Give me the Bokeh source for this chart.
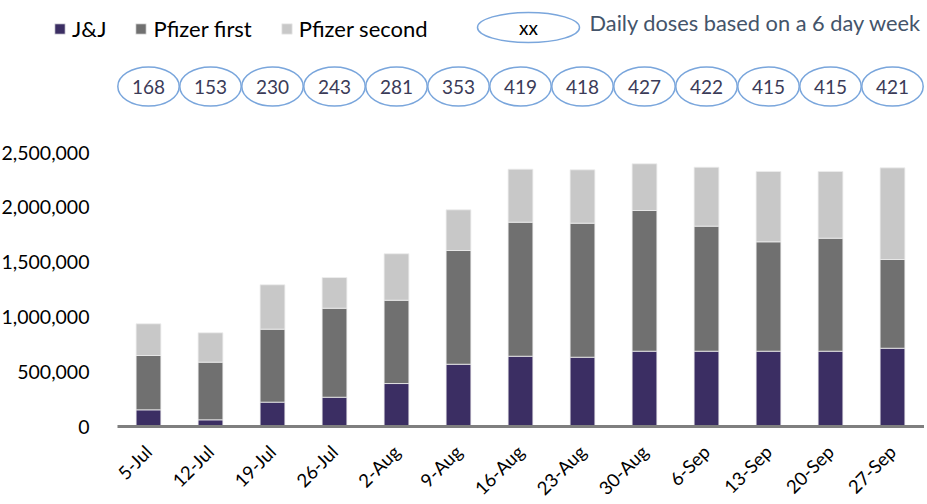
import math
from bokeh.plotting import figure
from bokeh.models import (Range1d, Legend, LegendItem, FixedTicker,
                          NumeralTickFormatter, ColumnDataSource)
from bokeh.embed import file_html
from bokeh.resources import INLINE
from bokeh.core.properties import value

weeks = ["5-Jul", "12-Jul", "19-Jul", "26-Jul", "2-Aug", "9-Aug", "16-Aug",
         "23-Aug", "30-Aug", "6-Sep", "13-Sep", "20-Sep", "27-Sep"]
jj = [152000, 61000, 222000, 267000, 392000, 568000, 641000,
      632000, 687000, 687000, 687000, 687000, 714000]
pfizer_first = [496000, 526000, 666000, 812000, 760000, 1038000, 1223000,
                1223000, 1284000, 1141000, 998000, 1031000, 810000]
pfizer_second = [289000, 268000, 405000, 280000, 424000, 371000, 484000,
                 487000, 426000, 538000, 642000, 609000, 836000]
daily_doses = ["168", "153", "230", "243", "281", "353", "419",
               "418", "427", "422", "415", "415", "421"]
y_ticks = [0, 500000, 1000000, 1500000, 2000000, 2500000]
series_names = ["J&J", "Pfizer first", "Pfizer second"]
series_colors = ["#3b2e63", "#707070", "#c8c8c8"]
key_label = "xx"
key_text = "Daily doses based on a 6 day week"

FONT = "Lato"
ELLIPSE_COLOR = "#7aa6dc"

# ---- pixel layout (page pixels) -> data coordinates ----
W, H = 924, 500
PAGE_X0, PAGE_Y0 = 0, 0
CAT_W = 62.0            # pixels per week
FIRST_X = 148.0         # page x of the first week's centre
BASE_Y = 426.0          # page y of value 0
PX_PER_UNIT = 109.6e-6  # pixels per dose


def dx(page_x):
    return (page_x - FIRST_X) / CAT_W


def dy(page_y):
    return (BASE_Y - page_y) / PX_PER_UNIT


x_idx = list(range(len(weeks)))
src = ColumnDataSource(dict(x=x_idx, week=weeks, jj=jj, pf1=pfizer_first,
                            pf2=pfizer_second, daily=daily_doses))

p = figure(x_range=Range1d(dx(PAGE_X0), dx(PAGE_X0 + W)),
           y_range=Range1d(dy(PAGE_Y0 + H), dy(PAGE_Y0)),
           width=W, height=H, output_backend="svg", toolbar_location=None,
           min_border=0)
p.outline_line_color = None
p.xgrid.grid_line_color = None
p.ygrid.grid_line_color = None

rs = p.vbar_stack(["jj", "pf1", "pf2"], x="x", width=0.4, source=src,
                  color=series_colors, line_color="#eeeeee", line_width=0.8)

# daily-dose ellipses row
y_daily = dy(86)
p.ellipse(x="x", y=y_daily, width=0.99, height=39, height_units="screen",
          source=src, fill_color=None, line_color=ELLIPSE_COLOR, line_width=1.5)
p.text(x="x", y=y_daily, text="daily", source=src, text_align="center",
       text_baseline="middle", text_font=value(FONT), text_font_size="19px",
       text_color="#3b3b58")

# key for the ellipses
p.ellipse(x=[dx(528)], y=[dy(27)], width=102, height=30, width_units="screen",
          height_units="screen", fill_color=None, line_color=ELLIPSE_COLOR,
          line_width=1.5)
p.text(x=[dx(528)], y=[dy(27)], text=[key_label], text_align="center",
       text_baseline="middle", text_font=value(FONT), text_font_size="19px",
       text_color="#000000")
p.text(x=[dx(589)], y=[dy(22)], text=[key_text], text_align="left",
       text_baseline="middle", text_font=value(FONT), text_font_size="21.8px",
       text_color="#44546a")

legend = Legend(items=[LegendItem(label=n, renderers=[r]) for n, r in zip(series_names, rs)],
                orientation="horizontal", location=(53, H - 42),
                padding=0, margin=0, spacing=28, glyph_width=13, glyph_height=13,
                label_standoff=6, label_text_font=FONT, label_text_font_size="22px",
                label_text_color="#000000", border_line_color=None,
                background_fill_alpha=0)
p.add_layout(legend)

p.yaxis.fixed_location = dx(117)
p.yaxis.ticker = FixedTicker(ticks=y_ticks)
p.yaxis.formatter = NumeralTickFormatter(format="0,0")
p.yaxis.axis_line_color = None
p.yaxis.major_tick_line_color = None
p.yaxis.minor_tick_line_color = None
p.yaxis.major_label_standoff = 22
p.yaxis.major_label_text_font = FONT
p.yaxis.major_label_text_font_size = "19.5px"
p.yaxis.major_label_text_color = "#000000"

p.xaxis.fixed_location = 0
p.xaxis.bounds = (dx(117), dx(PAGE_X0 + W))
p.xaxis.ticker = FixedTicker(ticks=x_idx)
p.xaxis.major_label_overrides = {i: w for i, w in zip(x_idx, weeks)}
p.xaxis.axis_line_color = "#7f7f7f"
p.xaxis.axis_line_width = 3
p.xaxis.major_tick_line_color = None
p.xaxis.minor_tick_line_color = None
p.xaxis.major_label_orientation = math.pi / 4
p.xaxis.major_label_standoff = 16
p.xaxis.major_label_text_font = FONT
p.xaxis.major_label_text_font_size = "18.5px"
p.xaxis.major_label_text_color = "#000000"

open("out.html", "w").write(file_html(p, INLINE))
